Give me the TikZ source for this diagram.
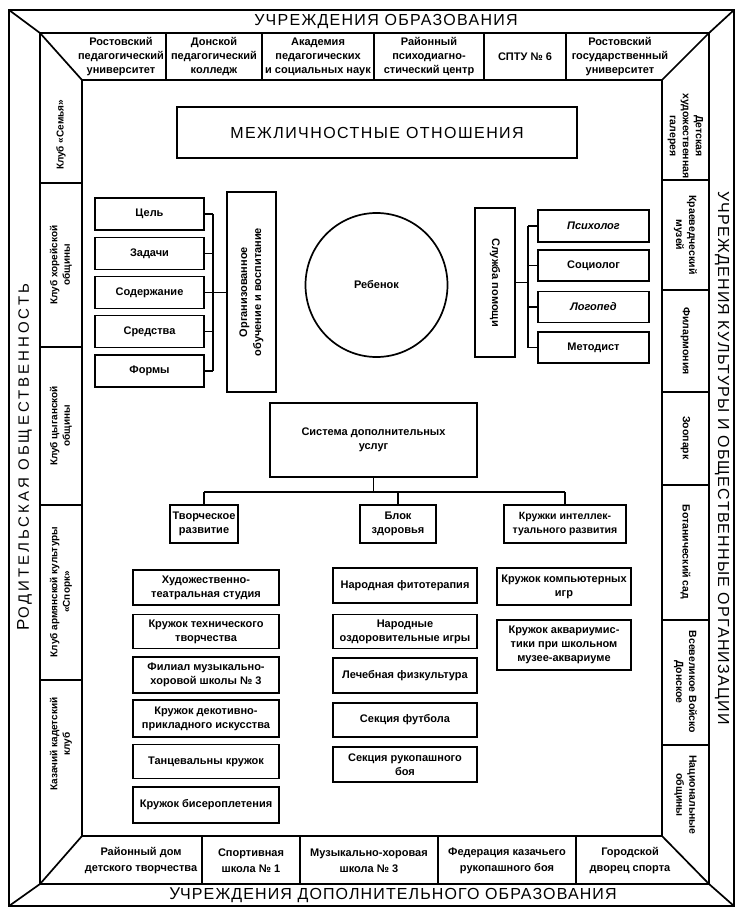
\documentclass[tikz,border=0pt]{standalone}
\usepackage{fontspec}
\usetikzlibrary{shapes.geometric}
\setmainfont{Liberation Sans}
\newcommand\lsp[1]{\addfontfeatures{LetterSpace=#1}}
\newcommand\bxf{\fontsize{11}{14}\selectfont\bfseries}
\newcommand\topf{\fontsize{11}{14}\selectfont\bfseries}
\newcommand\sidef{\fontsize{10}{12.5}\selectfont\bfseries}
\newcommand\rsidef{\fontsize{10.5}{13}\selectfont\bfseries}
\newcommand\ttlf{\fontsize{16}{16}\selectfont}
\begin{document}
\begin{tikzpicture}[x=1pt,y=-1pt,
  frame/.style={line width=1.7pt, line join=miter},
  ln/.style={line width=1.5pt},
  box/.style={draw, line width=1.7pt, align=center, inner sep=1pt, font=\bxf},
  lab/.style={align=center, inner sep=0pt, font=\topf},
  llab/.style={align=center, inner sep=0pt, font=\sidef, rotate=90},
  rlab/.style={align=center, inner sep=0pt, font=\rsidef, rotate=-90},
  blab/.style={align=center, inner sep=0pt, font=\fontsize{11}{16}\selectfont\bfseries}]
\useasboundingbox (0,0) rectangle (736,909);
\fill[white] (0,0) rectangle (736,909);

% ---------- frame ----------
\draw[frame] (9,10) rectangle (734,906);
\draw[frame] (40,33) rectangle (709,884);
\draw[frame] (82,80) rectangle (662,836);
\draw[frame] (9,10) -- (40,33) -- (82,80);
\draw[frame] (734,10) -- (709,33) -- (662,80);
\draw[frame] (9,906) -- (40,884) -- (82,836);
\draw[frame] (734,906) -- (709,884) -- (662,836);
\foreach \x in {166,262,374,484,566} \draw[frame] (\x,33) -- (\x,80);
\foreach \y in {183,347,505,680} \draw[frame] (40,\y) -- (82,\y);
\foreach \y in {180,290,392,485,620,745} \draw[frame] (662,\y) -- (709,\y);
\foreach \x in {202,300,438,576} \draw[frame] (\x,836) -- (\x,884);

% ---------- frame titles ----------
\node[inner sep=0pt, font=\ttlf] (ttop) at (386,21.5) {\lsp{8}УЧРЕЖДЕНИЯ ОБРАЗОВАНИЯ};
\node[inner sep=0pt, font=\ttlf] (tbot) at (393,895.5) {\lsp{7}{\fontsize{17}{17}\selectfont У}ЧРЕЖДЕНИЯ ДОПОЛНИТЕЛЬНОГО ОБРАЗОВАНИЯ};
\node[inner sep=0pt, font=\fontsize{15}{15}\selectfont, rotate=90] (tleft) at (24.5,457) {\lsp{20}{\fontsize{17}{17}\selectfont Р}ОДИТЕЛЬСКАЯ ОБЩЕСТВЕННОСТЬ};
\node[inner sep=0pt, font=\ttlf, rotate=-90] (tright) at (722,458) {\lsp{7.5}УЧРЕЖДЕНИЯ КУЛЬТУРЫ И ОБЩЕСТВЕННЫЕ ОРГАНИЗАЦИИ};

% ---------- top row ----------
\node[lab] (u1) at (121,56.5) {Ростовский\\педагогический\\университет};
\node[lab] (u2) at (214,56.5) {Донской\\педагогический\\колледж};
\node[lab] (u3) at (318,56.5) {Академия\\педагогических\\и социальных наук};
\node[lab] (u4) at (429,56.5) {Районный\\психодиагно-\\стический центр};
\node[lab] (u5) at (525,56.5) {СПТУ №~6};
\node[lab] (u6) at (620,56.5) {Ростовский\\государственный\\университет};

% ---------- left column ----------
\node[llab] (l1) at (61,135) {Клуб «Семья»};
\node[llab] (l2) at (61,265) {Клуб хорейской\\общины};
\node[llab] (l3) at (61,426) {Клуб цыганской\\общины};
\node[llab] (l4) at (61,592) {Клуб армянской культуры\\«Спорк»};
\node[llab] (l5) at (61,744) {Казачий кадетский\\клуб};

% ---------- right column ----------
\node[rlab] (r1) at (685.5,136) {Детская\\художественная\\галерея};
\node[rlab] (r2) at (685.5,235) {Краеведческий\\музей};
\node[rlab] (r3) at (685.5,341) {Филармония};
\node[rlab] (r4) at (685.5,438) {Зоопарк};
\node[rlab] (r5) at (685.5,552) {Ботанический сад};
\node[rlab] (r6) at (685.5,682) {Всевеликое Войско\\Донское};
\node[rlab] (r7) at (685.5,795) {Национальные\\общины};

% ---------- bottom row ----------
\node[blab] (b1) at (141,861) {Районный дом\\детского творчества};
\node[blab] (b2) at (251,861) {Спортивная\\школа №~1};
\node[blab] (b3) at (369,861) {Музыкально-хоровая\\школа №~3};
\node[blab] (b4) at (507,861) {Федерация казачьего\\рукопашного боя};
\node[blab] (b5) at (630,861) {Городской\\дворец спорта};

% ---------- center ----------
\node[box, minimum width=400pt, minimum height=51pt, font=\fontsize{16}{16}\selectfont] (mo) at (377,132.5) {\lsp{9}МЕЖЛИЧНОСТНЫЕ ОТНОШЕНИЯ};

\node[box, minimum width=109pt, minimum height=32pt] (c1) at (149.5,214) {Цель};
\node[box, minimum width=109pt, minimum height=32pt] (c2) at (149.5,253.5) {Задачи};
\node[box, minimum width=109pt, minimum height=32pt] (c3) at (149.5,292.5) {Содержание};
\node[box, minimum width=109pt, minimum height=32pt] (c4) at (149.5,331.5) {Средства};
\node[box, minimum width=109pt, minimum height=32pt] (c5) at (149.5,371) {Формы};
\node[box, minimum width=200pt, minimum height=49pt, rotate=90] (org) at (251.5,292) {Организованное\\обучение и воспитание};
\coordinate (bl) at (213,292.5);
\foreach \n in {c1,c2,c3,c4,c5} \draw[ln] (\n.east) -- (\n.east -| bl);
\draw[ln] (c1.east -| bl) -- (c5.east -| bl);
\draw[ln] (bl) -- (bl -| org.north);

\node[draw, line width=1.7pt, ellipse, minimum width=142pt, minimum height=144pt, inner sep=0pt, font=\bxf] (child) at (376.5,285) {Ребенок};

\node[box, minimum width=149pt, minimum height=40pt, rotate=-90] (sl) at (495,282.5) {Служба помощи};
\node[box, minimum width=111pt, minimum height=32pt] (p1) at (593.5,226) {\itshape Психолог};
\node[box, minimum width=111pt, minimum height=31pt] (p2) at (593.5,265.5) {Социолог};
\node[box, minimum width=111pt, minimum height=31pt] (p3) at (593.5,307) {\itshape Логопед};
\node[box, minimum width=111pt, minimum height=31pt] (p4) at (593.5,347.5) {Методист};
\coordinate (br) at (528,282.5);
\draw[ln] (sl.north) -- (br);
\foreach \n in {p1,p2,p3,p4} \draw[ln] (\n.west -| br) -- (\n.west);
\draw[ln] (p1.west -| br) -- (p4.west -| br);

\node[box, minimum width=207pt, minimum height=74pt] (sys) at (373.5,440) {Система дополнительных\\услуг};
\node[box, minimum width=68pt, minimum height=38pt] (tv) at (204,524) {Творческое\\развитие};
\node[box, minimum width=76pt, minimum height=38pt] (bz) at (398,524) {Блок\\здоровья};
\node[box, minimum width=122pt, minimum height=38pt, font=\fontsize{10.5}{14}\selectfont\bfseries] (ki) at (565,524) {Кружки интеллек-\\туального развития};
\coordinate (hb) at (373.5,492);
\draw[ln] (sys.south) -- (hb);
\draw[ln] (tv.north |- hb) -- (ki.north |- hb);
\foreach \n in {tv,bz,ki} \draw[ln] (\n.north |- hb) -- (\n.north);

\node[box, minimum width=146pt, minimum height=35pt] (a1) at (206,587.5) {Художественно-\\театральная студия};
\node[box, minimum width=146pt, minimum height=34pt] (a2) at (206,631.5) {Кружок технического\\творчества};
\node[box, minimum width=146pt, minimum height=36pt] (a3) at (206,675) {Филиал музыкально-\\хоровой школы №~3};
\node[box, minimum width=146pt, minimum height=37pt] (a4) at (206,718.5) {Кружок декотивно-\\прикладного искусства};
\node[box, minimum width=146pt, minimum height=34pt] (a5) at (206,761.5) {Танцевальны кружок};
\node[box, minimum width=146pt, minimum height=36pt] (a6) at (206,805) {Кружок бисероплетения};

\node[box, minimum width=144pt, minimum height=35pt] (m1) at (405,585.5) {Народная фитотерапия};
\node[box, minimum width=144pt, minimum height=34pt] (m2) at (405,631.5) {Народные\\оздоровительные игры};
\node[box, minimum width=144pt, minimum height=35pt] (m3) at (405,675.5) {Лечебная физкультура};
\node[box, minimum width=144pt, minimum height=34pt] (m4) at (405,720) {Секция футбола};
\node[box, minimum width=144pt, minimum height=35pt] (m5) at (405,764.5) {Секция рукопашного\\боя};

\node[box, minimum width=134pt, minimum height=37pt] (k1) at (564,586.5) {Кружок компьютерных\\игр};
\node[box, minimum width=134pt, minimum height=50pt] (k2) at (564,645) {Кружок аквариумис-\\тики при школьном\\музее-аквариуме};
\end{tikzpicture}
\end{document}
